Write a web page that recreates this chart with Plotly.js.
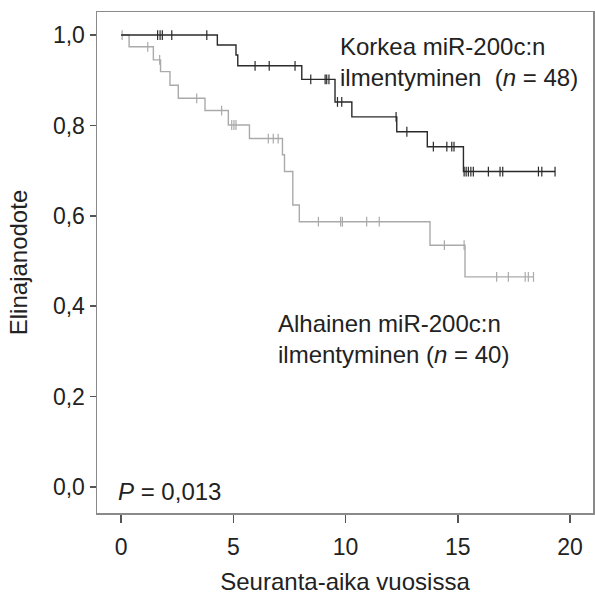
<!DOCTYPE html>
<html>
<head>
<meta charset="utf-8">
<script src="https://cdn.plot.ly/plotly-3.0.1.min.js"></script>
<style>html,body{margin:0;padding:0;background:#fff;}#chart{width:595px;height:604px;}</style>
</head>
<body>
<div id="chart"></div>
<script>
// High miR-200c expression (n = 48)
const highEventTimes = [0, 4.29, 5.12, 5.20, 8.05, 9.53, 10.28, 12.28, 13.64, 15.25];
const highSurvival   = [1.0, 0.978, 0.956, 0.932, 0.902, 0.852, 0.819, 0.786, 0.753, 0.698];
const highEndTime = 19.33;
const highCensorTimes = [1.63, 1.74, 1.84, 2.26, 3.82, 5.97, 6.60, 7.75, 8.45, 9.09, 9.16, 9.26,
  9.64, 9.83, 12.25, 12.73, 13.91, 14.51, 14.73, 14.83, 15.28, 15.37, 15.47, 15.58, 15.69,
  16.36, 16.88, 17.00, 18.59, 18.74, 19.33];

// Low miR-200c expression (n = 40)
const lowEventTimes = [0, 0.36, 1.44, 1.76, 2.18, 2.55, 3.74, 4.78, 5.72, 7.19, 7.28, 7.65, 7.94, 13.76, 15.32];
const lowSurvival   = [1.0, 0.974, 0.945, 0.919, 0.889, 0.860, 0.833, 0.801, 0.771, 0.735, 0.698, 0.624, 0.587, 0.535, 0.465];
const lowEndTime = 18.37;
const lowCensorTimes = [0.05, 1.19, 1.72, 3.37, 4.48, 4.93, 5.03, 5.12, 6.56, 6.78, 7.00, 8.79,
  9.78, 9.86, 10.94, 11.50, 14.40, 15.28, 16.73, 17.25, 18.00, 18.14, 18.37];

const xTickVals = [0, 5, 10, 15, 20];
const yTickVals = [0, 0.2, 0.4, 0.6, 0.8, 1.0];

function survAt(times, surv, t) {
  let s = surv[0];
  for (let i = 0; i < times.length; i++) { if (times[i] <= t) s = surv[i]; }
  return s;
}
function stepTrace(times, surv, end, color, width) {
  return { x: times.concat([end]), y: surv.concat([surv[surv.length - 1]]),
    type: 'scatter', mode: 'lines', line: { shape: 'hv', color: color, width: width },
    hoverinfo: 'skip', showlegend: false };
}
function censorTrace(times, evT, surv, color) {
  return { x: times, y: times.map(t => survAt(evT, surv, t)), type: 'scatter', mode: 'markers',
    marker: { symbol: 'line-ns', size: 7, line: { color: color, width: 1.2 } },
    hoverinfo: 'skip', showlegend: false };
}

const lowColor = '#aaaaaa', highColor = '#2a2a2a';
const data = [
  stepTrace(lowEventTimes, lowSurvival, lowEndTime, lowColor, 1.4),
  censorTrace(lowCensorTimes, lowEventTimes, lowSurvival, lowColor),
  stepTrace(highEventTimes, highSurvival, highEndTime, highColor, 1.4),
  censorTrace(highCensorTimes, highEventTimes, highSurvival, highColor)
];

const fam = 'Liberation Sans, Arial, sans-serif';
const font = { family: fam, size: 24, color: '#222' };
const tickFont = { family: fam, size: 23, color: '#222' };
const layout = {
  width: 595, height: 604,
  margin: { l: 97, r: 2, t: 12, b: 91 },
  paper_bgcolor: '#fff', plot_bgcolor: '#fff',
  separators: ', ',
  font: font,
  showlegend: false,
  xaxis: {
    range: [-1.07, 21.02], tickvals: xTickVals, ticks: 'outside', ticklen: 8, tickwidth: 1.5,
    tickcolor: '#555', showgrid: false, zeroline: false, showline: true, mirror: true,
    linecolor: '#8a8a8a', linewidth: 1.5, tickfont: tickFont, ticklabelstandoff: 5,
    title: { text: 'Seuranta-aika vuosissa', font: font, standoff: 14 }
  },
  yaxis: {
    range: [-0.0575, 1.051], tickvals: yTickVals, tickformat: '.1f', ticks: 'outside', ticklen: 6,
    tickwidth: 1.5, tickcolor: '#555', showgrid: false, zeroline: false, showline: true, mirror: true,
    linecolor: '#8a8a8a', linewidth: 1.5, tickfont: tickFont,
    title: { text: 'Elinajanodote', font: font, standoff: 18 }
  },
  annotations: [
    { x: 9.67, y: 0.941, xref: 'x', yref: 'y', xanchor: 'left', yanchor: 'middle', align: 'left',
      showarrow: false, font: font, text: 'Korkea miR-200c:n<br>ilmentyminen  (<i>n</i> = 48)' },
    { x: 6.9, y: 0.327, xref: 'x', yref: 'y', xanchor: 'left', yanchor: 'middle', align: 'left',
      showarrow: false, font: font, text: 'Alhainen miR-200c:n<br>ilmentyminen (<i>n</i> = 40)' },
    { x: -0.22, y: -0.009, xref: 'x', yref: 'y', xanchor: 'left', yanchor: 'middle', align: 'left',
      showarrow: false, font: font, text: '<i>P</i> = 0,013' }
  ]
};

Plotly.newPlot('chart', data, layout, { displayModeBar: false, staticPlot: true });
</script>
</body>
</html>
